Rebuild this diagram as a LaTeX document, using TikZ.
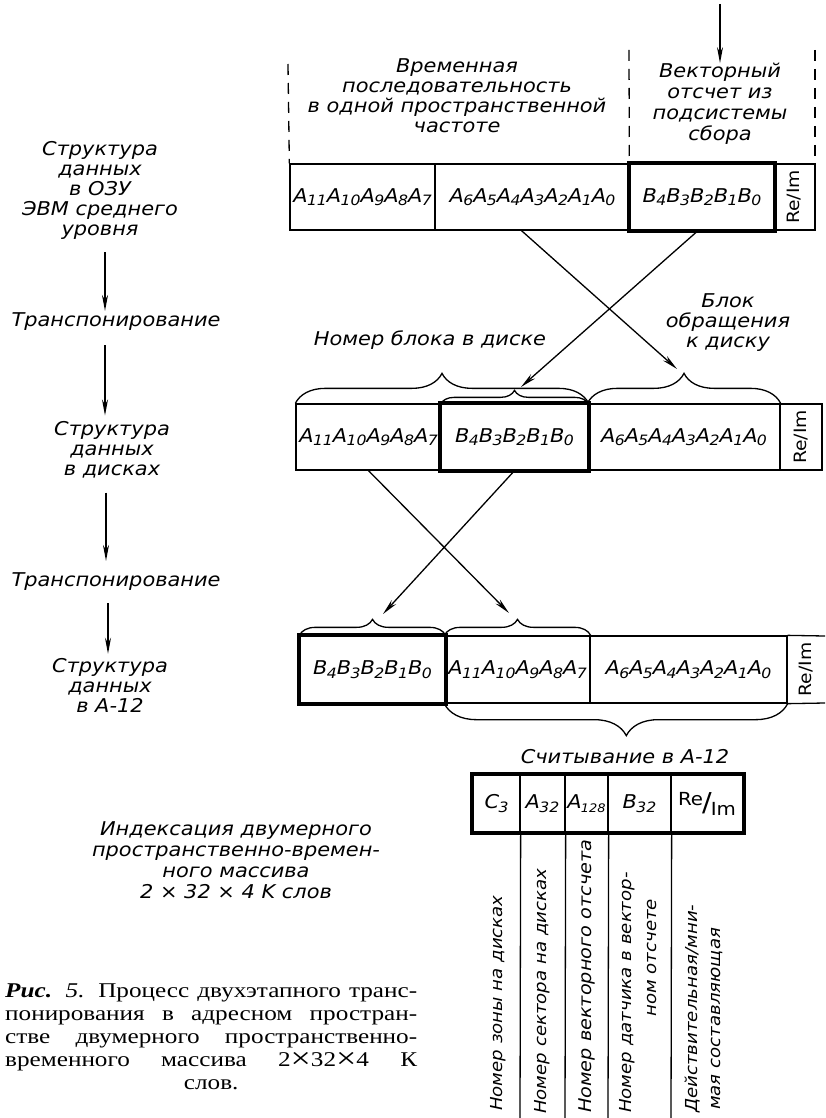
\documentclass[tikz,border=0pt]{standalone}
\usepackage{fontspec}
\usepackage{graphicx}
\usetikzlibrary{arrows.meta,decorations.pathreplacing}
\newfontfamily\gost[FakeStretch=1.1,ItalicFont={DejaVu Sans Oblique}]{DejaVu Sans}
\newfontfamily\capserif[FakeStretch=1.2]{Liberation Serif}
\newcommand\gostfont{\gost\itshape\fontsize{19}{20}\selectfont}
\newcommand\gostfontw{\gost\itshape\fontsize{19}{21}\selectfont}
\newcommand\rotfont{\gost\itshape\fontsize{16.5}{18}\selectfont}
\newcommand\refont{\gost\fontsize{17}{17}\selectfont}
\newcommand\refontb{\gost\fontsize{18}{18}\selectfont}
\newcommand\capfont{\capserif\fontsize{21}{22.8}\selectfont}
\newcommand\bigx{\raisebox{-0.12em}{\fontsize{30}{30}\selectfont ×}}
\newcommand\sbx[2]{#1\kern-0.03em\raisebox{-0.35ex}{\scalebox{0.75}{#2}}}
\begin{document}
\begin{tikzpicture}[x=1pt,y=-1pt,
  lbl/.style={font=\gostfont, align=center, inner sep=0pt},
  cell/.style={draw, line width=1.3pt, inner sep=0pt, minimum height=66pt, font=\gostfont},
  arr/.style={line width=1.3pt, -{Stealth[length=16pt,width=6pt]}},
  brc/.style={decorate, line width=1.3pt, decoration={brace, amplitude=#1}},
  dsh/.style={line width=1.3pt, dash pattern=on 11pt off 8pt},
  vlab/.style={font=\rotfont, rotate=90, anchor=west, inner sep=0pt}
]
\fill[white] (0,0) rectangle (825,1118);
\useasboundingbox (0,0) rectangle (825,1118);

% ---------- top row ----------
\node[cell, minimum width=145pt] (t1) at (362.5,197) {\sbx{A}{11}\sbx{A}{10}\sbx{A}{9}\sbx{A}{8}\sbx{A}{7}};
\node[cell, minimum width=195pt] (t2) at (532.5,197) {\sbx{A}{6}\sbx{A}{5}\sbx{A}{4}\sbx{A}{3}\sbx{A}{2}\sbx{A}{1}\sbx{A}{0}};
\node[cell, minimum width=144pt] (t3) at (702,197) {\sbx{B}{4}\sbx{B}{3}\sbx{B}{2}\sbx{B}{1}\sbx{B}{0}};
\node[cell, rotate=90, minimum width=66pt, minimum height=41pt, font=\refont] (t4) at (794.5,197) {Re/Im};
\draw[line width=4pt] (t3.north west) rectangle (t3.south east);

\coordinate (d1a) at (288,64);
\coordinate (d2a) at (629,50);
\coordinate (d3a) at (815,50);
\coordinate (d3b) at (815,164);
\draw[dsh] (d1a) -- (t1.north west);
\draw[dsh] (d2a) -- (t3.north west);
\draw[dsh] (d3a) -- (d3b);

\node[lbl] (vrem) at (457,96) {Временная\\последовательность\\в одной пространственной\\частоте};
\node[lbl, font=\gostfontw] (vekt) at (720,104) {Векторный\\отсчет из\\подсистемы\\сбора};
\coordinate (in0) at (720,4);
\draw[arr] (in0) -- (vekt.north);

% ---------- middle row ----------
\node[cell, minimum width=145pt] (m1) at (368.5,437) {\sbx{A}{11}\sbx{A}{10}\sbx{A}{9}\sbx{A}{8}\sbx{A}{7}};
\node[cell, minimum width=147pt] (m2) at (514.5,437) {\sbx{B}{4}\sbx{B}{3}\sbx{B}{2}\sbx{B}{1}\sbx{B}{0}};
\node[cell, minimum width=192pt] (m3) at (684,437) {\sbx{A}{6}\sbx{A}{5}\sbx{A}{4}\sbx{A}{3}\sbx{A}{2}\sbx{A}{1}\sbx{A}{0}};
\node[cell, rotate=90, minimum width=66pt, minimum height=42pt, font=\refont] (m4) at (801,437) {Re/Im};
\draw[line width=4pt] (m2.north west) rectangle (m2.south east);

\draw[brc=30pt] (m1.north west) -- (m2.north east);
\draw[brc=14pt] ([yshift=-1pt]m2.north west) -- ([yshift=-1pt]m2.north east);
\draw[brc=30pt] (m3.north west) -- (m3.north east);
\node[lbl] (nb) at (430,340) {Номер блока в диске};
\node[lbl] (bo) at (728,323) {Блок\\обращения\\к диску};

\coordinate (aR) at (677,369);
\coordinate (aL) at (521,387);
\draw[arr] ([xshift=-11pt]t2.south) -- (aR);
\draw[arr] ([xshift=-4pt]t3.south) -- (aL);

% ---------- bottom row ----------
\node[cell, minimum width=145pt, minimum height=67pt] (b1) at (372.5,669.5) {\sbx{B}{4}\sbx{B}{3}\sbx{B}{2}\sbx{B}{1}\sbx{B}{0}};
\node[cell, minimum width=145pt, minimum height=67pt] (b2) at (517.5,669.5) {\sbx{A}{11}\sbx{A}{10}\sbx{A}{9}\sbx{A}{8}\sbx{A}{7}};
\node[cell, minimum width=197pt, minimum height=67pt] (b3) at (688.5,669.5) {\sbx{A}{6}\sbx{A}{5}\sbx{A}{4}\sbx{A}{3}\sbx{A}{2}\sbx{A}{1}\sbx{A}{0}};
\node[rotate=90, font=\refont, inner sep=0pt] (b4) at (806,669.5) {Re/Im};
\coordinate (b4ne) at (825,636);
\coordinate (b4se) at (825,703);
\draw[line width=1.3pt] (b3.north east) -- (b4ne);
\draw[line width=1.3pt] (b3.south east) -- (b4se);
\draw[line width=4pt] (b1.north west) rectangle (b1.south east);

\draw[brc=16pt] (b1.north west) -- (b1.north east);
\draw[brc=16pt] (b2.north west) -- (b2.north east);
\draw[decorate, line width=1.3pt, decoration={brace, amplitude=32pt, aspect=0.47}] (b3.south east) -- (b2.south west);
\node[lbl] (sc) at (625,757) {Считывание в А-12};

\coordinate (cR) at (509,613);
\coordinate (cL) at (383,614);
\draw[arr] (m1.south) -- (cR);
\draw[arr] (m2.south) -- (cL);

% ---------- left column ----------
\node[lbl] (s1) at (100,190) {Структура\\данных\\в ОЗУ\\ЭВМ среднего\\уровня};
\node[lbl] (tr1) at (116,322) {Транспонирование};
\node[lbl] (s2) at (112,450) {Структура\\данных\\в дисках};
\node[lbl] (tr2) at (116,582) {Транспонирование};
\node[lbl] (s3) at (110,685) {Структура\\данных\\в А-12};
\draw[arr, shorten <=13pt, shorten >=2pt] ([xshift=5pt]s1.south) -- ([xshift=-11pt]tr1.north);
\draw[arr, shorten <=14pt, shorten >=6pt] ([xshift=-11pt]tr1.south) -- ([xshift=-7pt]s2.north);
\draw[arr, shorten <=14pt, shorten >=12pt] ([xshift=-6pt]s2.south) -- ([xshift=-10pt]tr2.north);
\draw[arr, shorten <=12pt, shorten >=4pt] ([xshift=-8pt]tr2.south) -- ([xshift=-2pt]s3.north);

% ---------- index table ----------
\begin{scope}[every node/.style={draw, line width=1.3pt, inner sep=0pt, minimum height=57pt, font=\gostfont}]
\node[minimum width=47pt] (c1) at (496.5,803.5) {\raisebox{-4pt}{\sbx{C}{3}}};
\node[minimum width=45pt] (c2) at (542.5,803.5) {\raisebox{-4pt}{\sbx{A}{32}}};
\node[minimum width=43pt] (c3) at (586.5,803.5) {\raisebox{-4pt}{A\kern-0.05em\raisebox{-0.35ex}{\scalebox{0.62}{128}}}};
\node[minimum width=63pt] (c4) at (639.5,803.5) {\raisebox{-4pt}{\sbx{B}{32}}};
\node[minimum width=72pt, font=\refontb] (c5) at (707,803.5) {\raisebox{6pt}{Re}\kern-1pt{\fontsize{26}{26}\selectfont/}\kern-1pt\raisebox{-4pt}{Im}};
\end{scope}
\draw[line width=4pt] (c1.north west) rectangle (c5.south east);
\coordinate (v1) at (520,1118);
\coordinate (v2) at (565,1118);
\coordinate (v3) at (608,1118);
\coordinate (v4) at (671,1118);
\draw[line width=1.3pt] (c1.south east) -- (v1);
\draw[line width=1.3pt] (c2.south east) -- (v2);
\draw[line width=1.3pt] (c3.south east) -- (v3);
\draw[line width=1.3pt] (c4.south east) -- (v4);

\node[vlab] (r1) at (498,1111) {Номер зоны на дисках};
\node[vlab] (r2) at (542,1114) {Номер сектора на дисках};
\node[vlab, font=\gost\itshape\fontsize{17.5}{18}\selectfont] (r3) at (587,1113) {Номер векторного отсчета};
\node[vlab] (r4a) at (627,1113) {Номер датчика в вектор-};
\node[vlab] (r4b) at (652,1017) {ном отсчете};
\node[vlab] (r5a) at (693,1113) {Действительная/мни-};
\node[vlab] (r5b) at (717,1110) {мая составляющая};

\node[lbl, font=\gostfontw] (idx) at (236,860) {Индексация двумерного\\пространственно-времен-\\ного массива\\2 × 32 × 4 K слов};

% ---------- caption ----------
\node[inner sep=0pt, align=left, anchor=north west, font=\capfont] (cap) at (5,984)
{\makebox[412pt][s]{\textbf{\textit{Рис.}} \textit{5.} Процесс двухэтапного транс-}\\
 \makebox[412pt][s]{понирования в адресном простран-}\\
 \makebox[412pt][s]{стве двумерного пространственно-}\\
 \makebox[412pt][s]{временного массива 2\bigx 32\bigx 4 К}\\
 \makebox[412pt][c]{слов.}};
\end{tikzpicture}
\end{document}
